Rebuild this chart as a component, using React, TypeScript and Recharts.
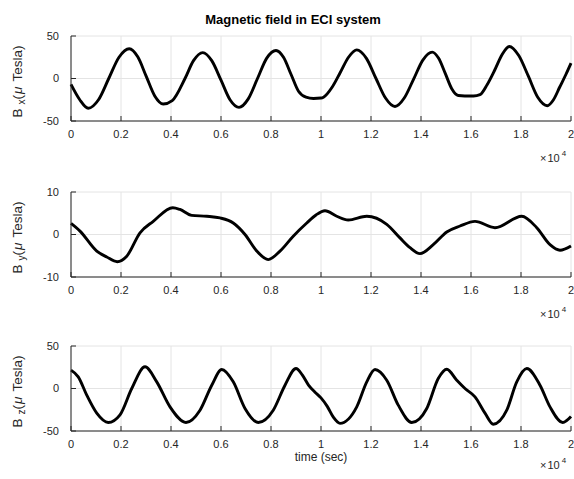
import React from 'react';
import { LineChart, Line, XAxis, YAxis, CartesianGrid } from 'recharts';

// time axis (seconds), shown as multiples of 10^4
const TIME_TICKS = [0, 2000, 4000, 6000, 8000, 10000, 12000, 14000, 16000, 18000, 20000];

const bxTime = [
  0, 350, 690, 1100, 1510, 1920, 2330, 2670, 3010, 3350, 3690, 4050, 4560, 4900, 5270, 5630,
  6000, 6360, 6720, 7090, 7460, 7830, 8200, 8500, 8800, 9100, 9400, 9700, 10000, 10100, 10450,
  10770, 11100, 11430, 11810, 12200, 12580, 12960, 13330, 13700, 14080, 14450, 14700, 14970,
  15230, 15490, 15750, 16100, 16360, 16650, 16950, 17240, 17530, 17910, 18290, 18670, 19050,
  19300, 19550, 19800, 20000,
];
const bxValue = [
  -7, -25, -35, -25, 0, 25, 35, 25.5, 2.5, -20.5, -30, -26, 0, 21, 30.5, 21,
  -2, -25, -34, -24, 0, 24, 33, 25, 5, -15, -22, -23.5, -23, -22, -10,
  7, 25, 33.7, 24, 0, -23, -33, -23, -1, 22, 31, 24, 6,
  -12, -20, -20.5, -20.5, -19, -7, 10, 28, 37.7, 27, 3, -22, -32,
  -25, -10, 5, 18,
];

const byTime = [
  0, 360, 1030, 1430, 1850, 2230, 2760, 3290, 4070, 4360, 4830, 5430, 5960, 6490, 6960, 7430,
  7890, 8360, 8890, 9430, 9800, 10160, 10630, 11090, 11830, 12630, 13160, 13560, 13960, 14490,
  15030, 15560, 16160, 16960, 18030, 18630, 19160, 19560, 20000,
];
const byValue = [
  2.6, 0.8, -3.9, -5.3, -6.4, -5.1, 0.4, 3.1, 6.3, 5.9, 4.5, 4.3, 3.9, 2.7, 0, -3.9,
  -5.9, -3.9, -0.4, 2.7, 4.6, 5.6, 4.3, 3.4, 4.3, 2.4, -0.8, -3.1, -4.5, -2.4,
  0.6, 2.0, 3.1, 1.6, 4.3, 1.6, -2.4, -3.7, -2.7,
];

const bzTime = [
  0, 290, 630, 1030, 1490, 1960, 2430, 2960, 3430, 3960, 4600, 5160, 5630, 6030, 6490, 6960,
  7490, 8090, 8560, 9000, 9250, 9500, 9750, 10000, 10250, 10500, 10760, 11430, 11830, 12160,
  12630, 13090, 13630, 14230, 14690, 15030, 15430, 15760, 16160, 16560, 16890, 17430, 17830,
  18230, 18760, 19160, 19670, 20000,
];
const bzValue = [
  21.6, 13.7, -7.8, -29, -40, -31, 0, 25.5, 7.8, -21.6, -40, -25.5, 3.9, 22.4, 7.8, -23.5,
  -40, -25.5, 3.9, 23.5, 16, 4, -4, -11, -21, -34, -41, -21.6, 7.8, 22.4,
  9.8, -19.6, -40, -23.5, 11.8, 22.7, 9.8, 0, -9.8, -29, -42, -25.5, 7.8,
  23.5, 3.9, -21.6, -40, -33,
];

const BX_TICKS = [-50, 0, 50];
const BY_TICKS = [-10, 0, 10];
const BZ_TICKS = [-50, 0, 50];

const AXIS_COLOR = '#262626';
const FONT = '"Liberation Sans", Arial, Helvetica, sans-serif';

const toRows = (time: number[], value: number[]) => time.map((t, i) => ({ t, v: value[i] }));

interface PanelProps {
  rows: { t: number; v: number }[];
  yTicks: number[];
  top: number;
}

const Panel: React.FC<PanelProps> = ({ rows, yTicks, top }) => {
  const yDomain = [yTicks[0], yTicks[yTicks.length - 1]];
  return (
    <div style={{ position: 'absolute', left: 0, top }}>
      <LineChart width={574} height={150} data={rows} margin={{ top: 36, right: 3, bottom: 0, left: 0 }}>
        <CartesianGrid xAxisId="b" yAxisId="l" stroke="#e4e4e4" />
        <XAxis
          xAxisId="b"
          dataKey="t"
          type="number"
          domain={[0, 20000]}
          ticks={TIME_TICKS}
          interval={0}
          tickFormatter={(v: number) => String(v / 10000)}
          height={29}
          tickSize={-5}
          tickMargin={14}
          axisLine={{ stroke: AXIS_COLOR }}
          tickLine={{ stroke: AXIS_COLOR }}
          tick={{ fill: AXIS_COLOR, fontSize: 11, fontFamily: FONT }}
        />
        <XAxis
          xAxisId="t"
          orientation="top"
          type="number"
          domain={[0, 20000]}
          ticks={TIME_TICKS}
          interval={0}
          height={0}
          tickSize={-5}
          tick={false}
          axisLine={{ stroke: AXIS_COLOR }}
          tickLine={{ stroke: AXIS_COLOR }}
        />
        <YAxis
          yAxisId="l"
          type="number"
          domain={yDomain}
          ticks={yTicks}
          interval={0}
          width={71}
          tickSize={-5}
          tickMargin={17}
          axisLine={{ stroke: AXIS_COLOR }}
          tickLine={{ stroke: AXIS_COLOR }}
          tick={{ fill: AXIS_COLOR, fontSize: 11, fontFamily: FONT }}
        />
        <YAxis
          yAxisId="r"
          orientation="right"
          type="number"
          domain={yDomain}
          ticks={yTicks}
          interval={0}
          width={0}
          tickSize={-5}
          tick={false}
          axisLine={{ stroke: AXIS_COLOR }}
          tickLine={{ stroke: AXIS_COLOR }}
        />
        <Line
          xAxisId="b"
          yAxisId="l"
          dataKey="v"
          type="monotone"
          stroke="#000000"
          strokeWidth={2.9}
          dot={false}
          activeDot={false}
          isAnimationActive={false}
        />
      </LineChart>
    </div>
  );
};

const YLabel: React.FC<{ cy: number; sub: string }> = ({ cy, sub }) => (
  <text transform={`translate(21.5, ${cy}) rotate(-90)`} textAnchor="middle" fontSize={13.5}>
    B
    <tspan dx={4} dy={3} fontSize={10}>{sub}</tspan>
    <tspan dy={-3}>(</tspan>
    <tspan dx={1} fontStyle="italic">μ</tspan>
    <tspan dx={5}>Tesla)</tspan>
  </text>
);

const Exponent: React.FC<{ y: number }> = ({ y }) => (
  <text x={540} y={y} fontSize={11}>
    ×<tspan dx={1}>10</tspan>
    <tspan dx={2} dy={-6} fontSize={8}>4</tspan>
  </text>
);

const PANEL_TOPS = [0, 156, 310];

export default function App() {
  return (
    <div
      style={{
        position: 'absolute',
        left: 0,
        top: 0,
        width: 574,
        height: 479,
        background: '#ffffff',
        overflow: 'hidden',
        fontFamily: FONT,
      }}
    >
      <Panel rows={toRows(bxTime, bxValue)} yTicks={BX_TICKS} top={PANEL_TOPS[0]} />
      <Panel rows={toRows(byTime, byValue)} yTicks={BY_TICKS} top={PANEL_TOPS[1]} />
      <Panel rows={toRows(bzTime, bzValue)} yTicks={BZ_TICKS} top={PANEL_TOPS[2]} />
      <svg
        width={574}
        height={479}
        style={{ position: 'absolute', left: 0, top: 0, pointerEvents: 'none' }}
        fontFamily={FONT}
        fill={AXIS_COLOR}
      >
        <text x={293} y={24} textAnchor="middle" fontSize={13} fontWeight="bold" fill="#000">
          Magnetic field in ECI system
        </text>
        <YLabel cy={PANEL_TOPS[0] + 81.5} sub="x" />
        <YLabel cy={PANEL_TOPS[1] + 81.5} sub="y" />
        <YLabel cy={PANEL_TOPS[2] + 81.5} sub="z" />
        <text x={321} y={461} textAnchor="middle" fontSize={12}>
          time (sec)
        </text>
        <Exponent y={162} />
        <Exponent y={318} />
        <Exponent y={469} />
      </svg>
    </div>
  );
}
